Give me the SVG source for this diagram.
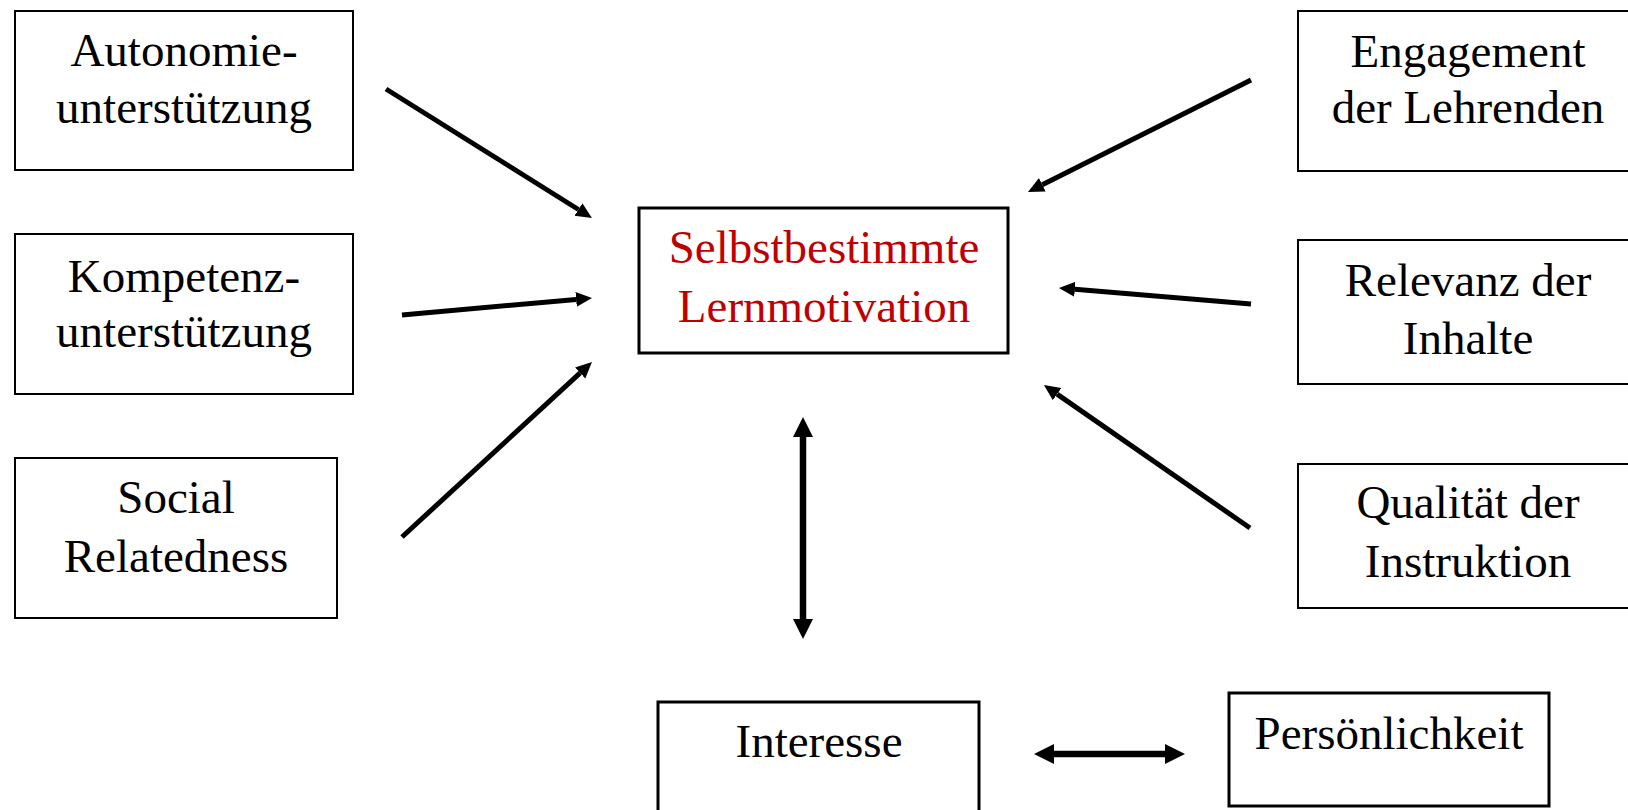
<svg xmlns="http://www.w3.org/2000/svg" width="1628" height="810" viewBox="0 0 1628 810">
<style>
.box{fill:#fff;stroke:#000;stroke-width:2}
.boxb{fill:#fff;stroke:#000;stroke-width:3}
.t{font-family:"Liberation Serif","Times New Roman",serif;font-size:47px;fill:#000;text-anchor:middle}
.red{fill:#C00000}
.c{stroke:#000;stroke-width:5;fill:none}
.d{stroke:#000;stroke-width:6.5;fill:none}
</style>
<defs>
<marker id="ah" markerUnits="userSpaceOnUse" markerWidth="18" markerHeight="18" viewBox="0 -9 18 18" refX="0" refY="0" orient="auto">
<path d="M0,-7.5 L16,0 L0,7.5 z" fill="#000"/>
</marker>
<marker id="dh" markerUnits="userSpaceOnUse" markerWidth="22" markerHeight="22" viewBox="0 -11 22 22" refX="0" refY="0" orient="auto-start-reverse">
<path d="M0,-10 L20,0 L0,10 z" fill="#000"/>
</marker>
</defs>
<rect width="1628" height="810" fill="#fff"/>
<g id="connectors">
<line class="c" x1="386" y1="89" x2="578.4" y2="209.5" marker-end="url(#ah)"/>
<line class="c" x1="402" y1="315" x2="576.1" y2="299.4" marker-end="url(#ah)"/>
<line class="c" x1="402" y1="537" x2="580.2" y2="372.9" marker-end="url(#ah)"/>
<line class="c" x1="1251" y1="80" x2="1042.3" y2="184.8" marker-end="url(#ah)"/>
<line class="c" x1="1251" y1="304" x2="1074.9" y2="289.3" marker-end="url(#ah)"/>
<line class="c" x1="1250" y1="528" x2="1057.1" y2="394.1" marker-end="url(#ah)"/>
<line class="d" x1="803" y1="437" x2="803" y2="619" marker-start="url(#dh)" marker-end="url(#dh)"/>
<line class="d" x1="1054" y1="754" x2="1165" y2="754" marker-start="url(#dh)" marker-end="url(#dh)"/>
</g>
<g id="autonomie">
<rect class="box" x="15" y="11" width="338" height="159"/>
<text class="t" x="184" y="66">Autonomie-</text>
<text class="t" x="184" y="123">unterstützung</text>
</g>
<g id="kompetenz">
<rect class="box" x="15" y="234" width="338" height="160"/>
<text class="t" x="184" y="292">Kompetenz-</text>
<text class="t" x="184" y="347">unterstützung</text>
</g>
<g id="social">
<rect class="box" x="15" y="458" width="322" height="160"/>
<text class="t" x="176" y="513">Social</text>
<text class="t" x="176" y="572">Relatedness</text>
</g>
<g id="lernmotivation">
<rect class="boxb" x="639" y="208" width="369" height="145"/>
<text class="t red" x="824" y="263">Selbstbestimmte</text>
<text class="t red" x="824" y="322">Lernmotivation</text>
</g>
<g id="engagement">
<rect class="box" x="1298" y="11" width="340" height="160"/>
<text class="t" x="1468" y="67">Engagement</text>
<text class="t" x="1468" y="123">der Lehrenden</text>
</g>
<g id="relevanz">
<rect class="box" x="1298" y="240" width="340" height="144"/>
<text class="t" x="1468" y="296">Relevanz der</text>
<text class="t" x="1468" y="354">Inhalte</text>
</g>
<g id="qualitaet">
<rect class="box" x="1298" y="464" width="340" height="144"/>
<text class="t" x="1468" y="518">Qualität der</text>
<text class="t" x="1468" y="577">Instruktion</text>
</g>
<g id="interesse">
<rect class="boxb" x="658" y="702" width="321" height="120"/>
<text class="t" x="819" y="757">Interesse</text>
</g>
<g id="persoenlichkeit">
<rect class="boxb" x="1229" y="693" width="320" height="113"/>
<text class="t" x="1389" y="749">Persönlichkeit</text>
</g>
</svg>
